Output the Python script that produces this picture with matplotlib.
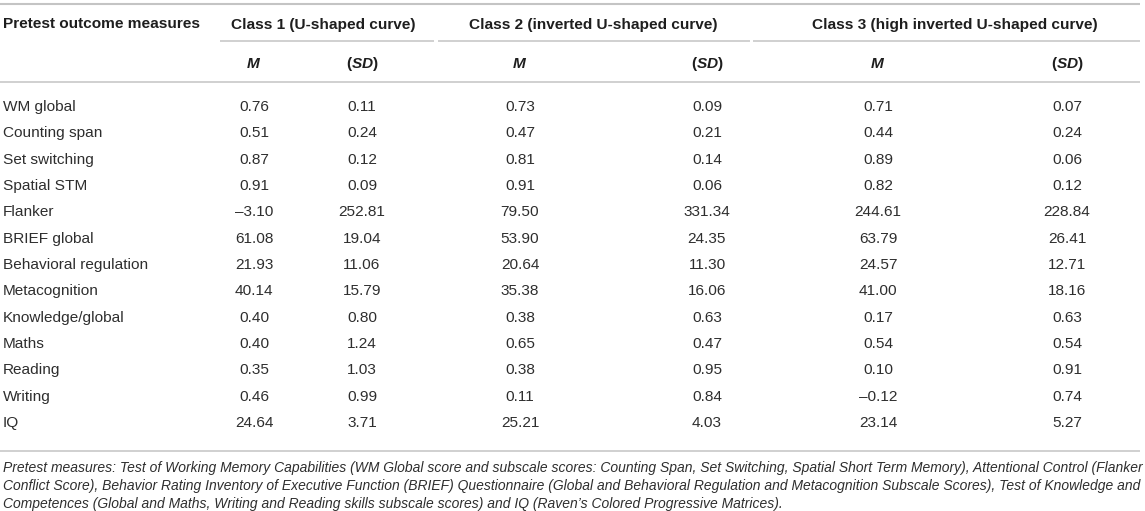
import matplotlib
matplotlib.use('Agg')
import matplotlib.pyplot as plt

plt.rcParams['font.family'] = ['Liberation Sans', 'DejaVu Sans']
plt.rcParams['mathtext.fontset'] = 'custom'
plt.rcParams['mathtext.bf'] = 'Liberation Sans:bold'
plt.rcParams['mathtext.bfit'] = 'Liberation Sans:italic:bold'

# ---- table data ----
measures = ['WM global', 'Counting span', 'Set switching', 'Spatial STM', 'Flanker',
            'BRIEF global', 'Behavioral regulation', 'Metacognition', 'Knowledge/global',
            'Maths', 'Reading', 'Writing', 'IQ']
class1_m = [0.76, 0.51, 0.87, 0.91, -3.10, 61.08, 21.93, 40.14, 0.40, 0.40, 0.35, 0.46, 24.64]
class1_sd = [0.11, 0.24, 0.12, 0.09, 252.81, 19.04, 11.06, 15.79, 0.80, 1.24, 1.03, 0.99, 3.71]
class2_m = [0.73, 0.47, 0.81, 0.91, 79.50, 53.90, 20.64, 35.38, 0.38, 0.65, 0.38, 0.11, 25.21]
class2_sd = [0.09, 0.21, 0.14, 0.06, 331.34, 24.35, 11.30, 16.06, 0.63, 0.47, 0.95, 0.84, 4.03]
class3_m = [0.71, 0.44, 0.89, 0.82, 244.61, 63.79, 24.57, 41.00, 0.17, 0.54, 0.10, -0.12, 23.14]
class3_sd = [0.07, 0.24, 0.06, 0.12, 228.84, 26.41, 12.71, 18.16, 0.63, 0.54, 0.91, 0.74, 5.27]

first_header = 'Pretest outcome measures'
class_headers = ['Class 1 (U-shaped curve)', 'Class 2 (inverted U-shaped curve)',
                 'Class 3 (high inverted U-shaped curve)']
sub_headers = [r'$\mathbfit{M}$', r'$\mathbf{(}\mathbfit{SD}\mathbf{)}$'] * 3
footnote = [
    "Pretest measures: Test of Working Memory Capabilities (WM Global score and subscale scores: "
    "Counting Span, Set Switching, Spatial Short Term Memory), Attentional Control (Flanker",
    "Conflict Score), Behavior Rating Inventory of Executive Function (BRIEF) Questionnaire (Global and "
    "Behavioral Regulation and Metacognition Subscale Scores), Test of Knowledge and",
    "Competences (Global and Maths, Writing and Reading skills subscale scores) and IQ "
    "(Raven\u2019s Colored Progressive Matrices).",
]

# ---- layout (pixels) ----
W, H = 1145, 511
col_x = [254, 362, 520, 707, 878, 1067]
head_x = [323, 593, 955]
group_span = [(220, 434), (438, 750), (753, 1140)]
row0, row_step = 105.5, 26.33
fs = 11.1
fs_note = 9.98
txt = '#2e2e2e'
head = '#1e1e1e'
rule = '#c4c4c4'


def fmt(v):
    return f'{v:.2f}'.replace('-', '\u2013')


fig = plt.figure(figsize=(W / 100, H / 100), dpi=100)
ax = fig.add_axes([0, 0, 1, 1])
ax.set_xlim(0, W)
ax.set_ylim(H, 0)
ax.axis('off')

# rules
ax.hlines(4, 0, 1140, color=rule, lw=1.5)
for a, b in group_span:
    ax.hlines(41, a, b, color=rule, lw=1.1)
ax.hlines(82, 0, 1140, color=rule, lw=1.1)
ax.hlines(451, 0, 1140, color=rule, lw=1.1)

# header
ax.text(3, 23 + 5.5, first_header, fontsize=fs, fontweight='bold', color=head,
        ha='left', va='baseline')
for x, s in zip(head_x, class_headers):
    ax.text(x, 24 + 5.5, s, fontsize=fs, fontweight='bold', color=head,
            ha='center', va='baseline')
for x, s in zip(col_x, sub_headers):
    ax.text(x, 62.5 + 5.5, s, fontsize=fs, color=head, ha='center', va='baseline')

# body rows
columns = [class1_m, class1_sd, class2_m, class2_sd, class3_m, class3_sd]
for r, name in enumerate(measures):
    y = row0 + r * row_step + 5.5
    ax.text(3, y, name, fontsize=fs, color=txt, ha='left', va='baseline')
    for x, col in zip(col_x, columns):
        ax.text(x, y, fmt(col[r]), fontsize=fs, color=txt, ha='center', va='baseline')

# footnote
for k, line in enumerate(footnote):
    ax.text(3, 467.5 + k * 18 + 4.5, line, fontsize=fs_note, fontstyle='italic', color=txt,
            ha='left', va='baseline')

fig.savefig('out.png', dpi=100)
